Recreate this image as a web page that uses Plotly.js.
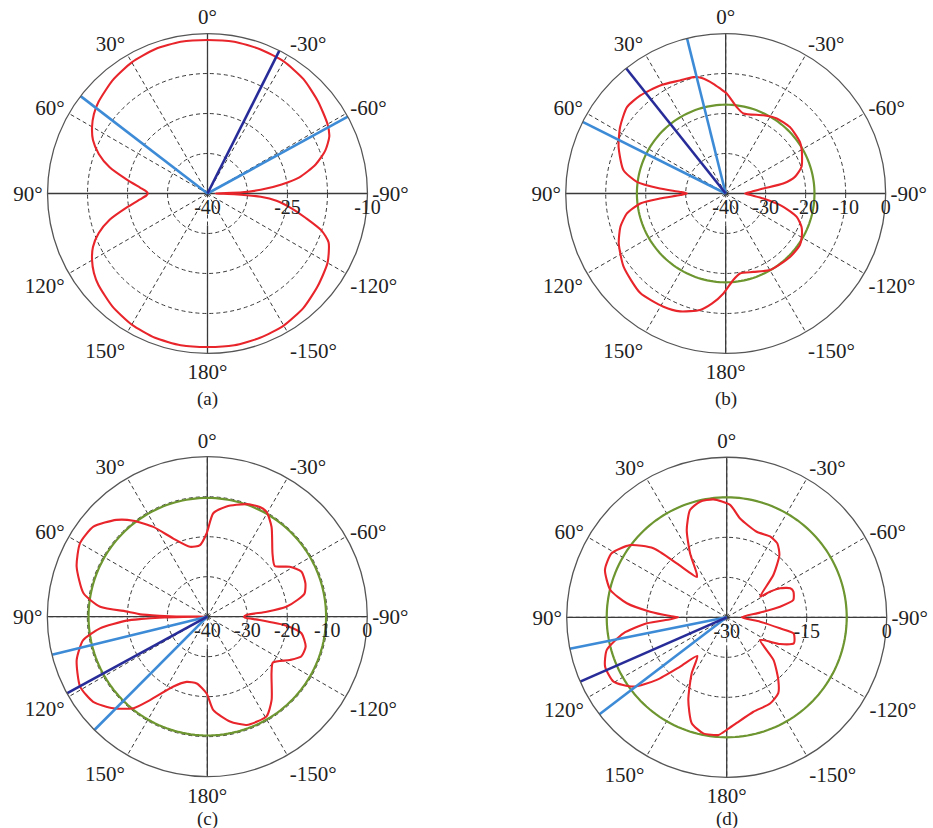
<!DOCTYPE html>
<html><head><meta charset="utf-8">
<script src="https://cdn.plot.ly/plotly-3.0.1.min.js"></script>
<style>html,body{margin:0;padding:0;background:#fff}#chart{width:933px;height:828px}</style>
</head><body><div id="chart"></div>
<script>
// angular tick labels (0 at top, counterclockwise positive)
const ANG_VALS = [0,30,60,90,120,150,180,210,240,270,300,330];
const ANG_TEXT = ["0°","30°","60°","90°","120°","150°","180°","-150°","-120°","-90°","-60°","-30°"];

// ---- panel (a)
const A_range = [-40,-10];
const A_tickvals = [-40,-32.5,-25,-17.5,-10];
const A_ticktext = ["-40","","-25","","-10"];
const A_theta = [0,10,20,30,40,50,55,60,65,70,75,80,85,88,90,92,95,100,105,110,115,120,125,130,140,150,160,170,180,190,200,210,220,230,240,248,252,256,260,264,266.5,268.5,270.5,272,274,277,280,285,290,295,300,310,320,330,340,350,360];
const A_red   = [-11.2,-11.1,-11.2,-11.6,-12.3,-13.3,-14.0,-15.0,-16.3,-18.3,-21.0,-24.5,-27.3,-28.5,-28.8,-28.5,-27.3,-24.5,-21.0,-18.3,-16.3,-15.0,-14.0,-13.3,-12.3,-11.6,-11.2,-11.1,-11.2,-11.1,-11.2,-11.4,-12.0,-13.0,-14.0,-15.5,-17.5,-21.0,-24.0,-27.0,-30.0,-35.0,-38.5,-33.5,-30.0,-26.0,-22.5,-19.0,-16.5,-14.8,-14.0,-13.0,-12.0,-11.4,-11.2,-11.1,-11.2];
const A_beamLight = [52.5,-61.3];
const A_beamDark = [-26.7];

// ---- panel (b)
const B_range = [-40,0];
const B_tickvals = [-40,-30,-20,-10,0];
const B_ticktext = ["-40","-30","-20","-10","0"];
const B_theta = [3.1,6.4,11.7,15.5,22,31.2,41,48.8,57.8,66.5,77.2,82.5,85.6,88,90,92,94.4,96.7,101.4,107.5,115,125.6,139.4,151.2,158.9,167.6,173,178.7,185,190.1,199.5,210,225.4,235.2,240.3,246.3,251.8,257,262.4,266,270,274,277.6,279.8,283.5,289.4,299.7,304.8,316,325.8,334.3,347.5,352.8,359.4,363.1];
const B_red   = [-13.7,-12.4,-10.5,-9.8,-9.5,-8.4,-7.5,-7.2,-8.8,-10.8,-13.8,-17.6,-23.5,-28.6,-30.3,-28.6,-23.5,-18.5,-14.8,-12.4,-10.5,-8.6,-7.2,-7.7,-8.4,-10.2,-12.3,-15.0,-18.3,-19.7,-19.2,-17.9,-17.4,-17.4,-18.1,-19.3,-21.3,-25.2,-30.5,-33.5,-35.2,-33.5,-30.5,-25.4,-22.2,-19.9,-18.1,-17.4,-16.9,-17.3,-18.3,-19.5,-18.2,-15.0,-13.7];
const B_green = -17.8;
const B_beamLight = [14,63.4];
const B_beamDark = [38.5];

// ---- panel (c)
const C_range = [-40,0];
const C_tickvals = [-40,-30,-20,-10,0];
const C_ticktext = ["-40","-30","-20","-10","0"];
const C_theta = [0.5,5.8,13.9,23.5,31,37.6,43.2,51.7,60,69,79.3,84.7,86.4,88,88.8,89.5,90,90.5,91.2,92,92.8,96.2,100.7,108.3,118.8,126.7,134.3,141.1,145.5,154.1,162.4,171,179.5,183.7,192.2,200,210.7,217.7,228.6,235.1,242.3,247,253.1,260,263.5,266.4,268.5,270,272.4,274.8,277.2,280.6,283.4,288.7,295.5,301.2,307,314.1,324.4,330.5,334.4,340.8,350.1,356.7,360.5];
const C_red   = [-19.2,-22.0,-22.0,-18.7,-13.8,-9.7,-6.8,-3.7,-3.25,-5.0,-8.5,-13.1,-20.2,-23.2,-28.0,-34.0,-39.5,-34.0,-28.0,-23.5,-19.8,-13.0,-8.4,-5.6,-3.7,-4.4,-7.2,-10.6,-14.7,-20.6,-22.9,-23.1,-20.8,-16.6,-13.2,-11.2,-11.0,-13.7,-18.6,-20.0,-16.7,-14.5,-14.3,-16.1,-20.1,-26.9,-30.6,-30.8,-30.2,-25.1,-20.1,-17.0,-15.0,-14.1,-13.9,-15.9,-18.9,-17.3,-12.4,-9.9,-9.6,-10.2,-12.0,-14.1,-19.2];
const C_green = -10.3;
const C_beamLight = [103.8,135.1];
const C_beamDark = [118.6];

// ---- panel (d)
const D_range = [-30,0];
const D_tickvals = [-30,-22.5,-15,-7.5,0];
const D_ticktext = ["-30","","-15","","0"];
const D_theta = [-1.7,6.4,13,18.9,24.6,29.8,34.3,36.5,42.8,46.7,53.2,60.9,68.7,76.8,82,85.8,88.7,90,92,94.3,98.8,105.2,112,119.6,126.6,131.8,136.6,142.8,148,155.1,161.7,168.6,176,180,185.4,195.8,206.7,214.2,219.5,227.6,235.8,243.4,248.9,256.5,258.3,262.6,270,278,281.3,284.6,291,294.6,298.5,300.6,301.8,312.2,319.8,325.6,331.8,340.7,352.3,358.3];
const D_red   = [-8.9,-7.75,-7.75,-8.75,-12.0,-16.2,-20.0,-20.6,-16.2,-11.1,-7.4,-5.3,-5.5,-7.6,-11.1,-15.6,-19.4,-20.9,-19.4,-15.0,-10.4,-6.7,-5.4,-5.6,-8.2,-12.4,-17.3,-20.9,-17.6,-12.9,-9.1,-7.8,-7.9,-8.9,-10.1,-11.6,-11.9,-12.8,-14.8,-18.1,-22.4,-18.8,-16.5,-17.1,-19.8,-23.7,-27.2,-23.7,-19.8,-17.1,-16.6,-16.9,-18.6,-20.6,-22.6,-18.2,-14.7,-13.2,-12.8,-13.0,-11.3,-8.9];
const D_green = -7.5;
const D_beamLight = [101.3,127.3];
const D_beamDark = [113.7];

// ---- styles
const RED = '#e8252b', GREEN = '#6e9630', LBLUE = '#3d8bd6', DBLUE = '#282c98', AXC = '#3a3a3a';
const FONT = 'Liberation Serif, Times New Roman, serif';

const panels = [
  {id:'polar',  range:A_range, tv:A_tickvals, tt:A_ticktext, th:A_theta, r:A_red, green:null,    bl:A_beamLight, bd:A_beamDark, dom:{x:[0.0509,0.3939], y:[0.5731,0.9595]}, label:'(a)', lx:0.222, ly:0.518},
  {id:'polar2', range:B_range, tv:B_tickvals, tt:B_ticktext, th:B_theta, r:B_red, green:B_green, bl:B_beamLight, bd:B_beamDark, dom:{x:[0.6063,0.9493], y:[0.5731,0.9595]}, label:'(b)', lx:0.778, ly:0.518},
  {id:'polar3', range:C_range, tv:C_tickvals, tt:C_ticktext, th:C_theta, r:C_red, green:C_green, bl:C_beamLight, bd:C_beamDark, dom:{x:[0.0507,0.3937], y:[0.0620,0.4484]}, label:'(c)', lx:0.222, ly:0.011},
  {id:'polar4', range:D_range, tv:D_tickvals, tt:D_ticktext, th:D_theta, r:D_red, green:D_green, bl:D_beamLight, bd:D_beamDark, dom:{x:[0.6074,0.9504], y:[0.0612,0.4477]}, label:'(d)', lx:0.779, ly:0.011}
];

const traces = [];
const layout = {
  width:933, height:828, margin:{l:0,r:0,t:0,b:0},
  paper_bgcolor:'#fff', showlegend:false,
  font:{family:FONT, size:21, color:'#222'},
  annotations:[]
};

panels.forEach(p => {
  const lo = p.range[0], hi = p.range[1];
  const gap = lo + 0.2*(hi-lo);
  // solid axis cross
  traces.push({type:'scatterpolar', subplot:p.id, mode:'lines', theta:[90,90,270], r:[hi,lo,hi], line:{color:AXC,width:1.3}, hoverinfo:'skip'});
  traces.push({type:'scatterpolar', subplot:p.id, mode:'lines', theta:[0,0], r:[hi,lo], line:{color:AXC,width:1.3}, hoverinfo:'skip'});
  traces.push({type:'scatterpolar', subplot:p.id, mode:'lines', theta:[180,180], r:[gap,hi], line:{color:AXC,width:1.3}, hoverinfo:'skip'});
  // green reference circle
  if (p.green !== null) {
    const gt = [], gr = [];
    for (let a = 0; a <= 360; a += 2) { gt.push(a); gr.push(p.green); }
    traces.push({type:'scatterpolar', subplot:p.id, mode:'lines', theta:gt, r:gr, line:{color:GREEN,width:2.2}});
  }
  // red pattern
  traces.push({type:'scatterpolar', subplot:p.id, mode:'lines', theta:p.th, r:p.r, line:{color:RED,width:2.1, shape:'spline', smoothing:0.6}});
  // beam lines
  p.bl.forEach(a => traces.push({type:'scatterpolar', subplot:p.id, mode:'lines', theta:[a,a], r:[lo,hi], line:{color:LBLUE,width:2.6}}));
  p.bd.forEach(a => traces.push({type:'scatterpolar', subplot:p.id, mode:'lines', theta:[a,a], r:[lo,hi], line:{color:DBLUE,width:2.6}}));

  layout[p.id] = {
    domain:p.dom,
    bgcolor:'rgba(0,0,0,0)',
    angularaxis:{
      rotation:90, direction:'counterclockwise',
      tickmode:'array', tickvals:ANG_VALS, ticktext:ANG_TEXT,
      showgrid:true, gridcolor:'#3a3a3a', griddash:'4px,3px', gridwidth:1,
      showline:true, linecolor:'#555', linewidth:1.3, ticks:'',
      tickfont:{family:FONT, size:21, color:'#222'}
    },
    radialaxis:{
      range:p.range, tickmode:'array', tickvals:p.tv, ticktext:p.tt,
      angle:0, side:'clockwise', showline:false, ticks:'',
      showgrid:true, gridcolor:'#3a3a3a', griddash:'4px,3px', gridwidth:1,
      tickfont:{family:FONT, size:20, color:'#222'}
    }
  };
  layout.annotations.push({xref:'paper', yref:'paper', x:p.lx, y:p.ly, text:p.label, showarrow:false, font:{family:FONT,size:19,color:'#222'}, xanchor:'center', yanchor:'middle'});
});

Plotly.newPlot('chart', traces, layout, {staticPlot:true});
</script>
</body></html>
